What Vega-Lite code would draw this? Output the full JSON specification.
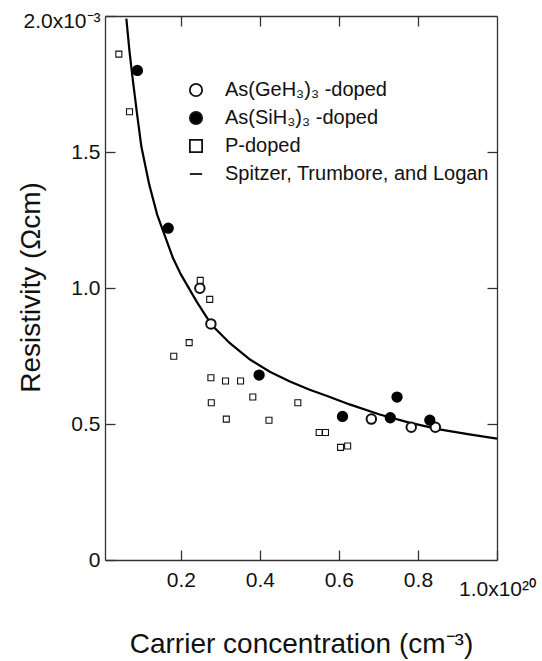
{
  "$schema": "https://vega.github.io/schema/vega-lite/v6.json",
  "width": 392,
  "height": 544,
  "autosize": {"type": "none"},
  "padding": {"left": 105, "top": 16, "right": 45, "bottom": 101},
  "background": "white",
  "config": {
    "view": {"stroke": null},
    "font": "Liberation Sans",
    "axis": {
      "grid": false,
      "domainColor": "#333",
      "domainWidth": 1.3,
      "tickColor": "#333",
      "tickWidth": 1.3,
      "tickSize": -10,
      "labelFont": "Liberation Sans",
      "labelFontSize": 21,
      "labelColor": "#111",
      "labelFlush": false,
      "labelOverlap": false,
      "labelBound": false,
      "titleFont": "Liberation Sans",
      "titleFontSize": 28,
      "titleFontWeight": "normal",
      "titleColor": "#111"
    },
    "legend": {
      "labelFont": "Liberation Sans",
      "labelFontSize": 20,
      "labelColor": "#111",
      "labelLimit": 400,
      "symbolSize": 150,
      "symbolStrokeWidth": 1.8
    }
  },
  "datasets": {
    "curve": [
      {"n": 0.062, "rho": 1.99},
      {"n": 0.070, "rho": 1.87},
      {"n": 0.078, "rho": 1.77},
      {"n": 0.090, "rho": 1.63},
      {"n": 0.100, "rho": 1.52},
      {"n": 0.120, "rho": 1.38},
      {"n": 0.140, "rho": 1.27},
      {"n": 0.160, "rho": 1.19},
      {"n": 0.180, "rho": 1.11},
      {"n": 0.200, "rho": 1.05},
      {"n": 0.240, "rho": 0.95},
      {"n": 0.278, "rho": 0.864},
      {"n": 0.324, "rho": 0.797},
      {"n": 0.375, "rho": 0.737},
      {"n": 0.425, "rho": 0.692},
      {"n": 0.476, "rho": 0.656},
      {"n": 0.526, "rho": 0.626},
      {"n": 0.572, "rho": 0.602},
      {"n": 0.627, "rho": 0.572},
      {"n": 0.703, "rho": 0.535},
      {"n": 0.778, "rho": 0.505},
      {"n": 0.854, "rho": 0.480},
      {"n": 0.930, "rho": 0.462},
      {"n": 1.000, "rho": 0.446}
    ],
    "points": [
      {"series": "As(GeH₃)₃ -doped", "n": 0.248, "rho": 0.999},
      {"series": "As(GeH₃)₃ -doped", "n": 0.276, "rho": 0.868},
      {"series": "As(GeH₃)₃ -doped", "n": 0.682, "rho": 0.518},
      {"series": "As(GeH₃)₃ -doped", "n": 0.783, "rho": 0.488},
      {"series": "As(GeH₃)₃ -doped", "n": 0.844, "rho": 0.488},
      {"series": "As(SiH₃)₃ -doped", "n": 0.090, "rho": 1.80},
      {"series": "As(SiH₃)₃ -doped", "n": 0.168, "rho": 1.22},
      {"series": "As(SiH₃)₃ -doped", "n": 0.398, "rho": 0.680},
      {"series": "As(SiH₃)₃ -doped", "n": 0.609, "rho": 0.528},
      {"series": "As(SiH₃)₃ -doped", "n": 0.747, "rho": 0.599},
      {"series": "As(SiH₃)₃ -doped", "n": 0.730, "rho": 0.523},
      {"series": "As(SiH₃)₃ -doped", "n": 0.830, "rho": 0.514},
      {"series": "P-doped", "n": 0.043, "rho": 1.86},
      {"series": "P-doped", "n": 0.070, "rho": 1.648},
      {"series": "P-doped", "n": 0.249, "rho": 1.028},
      {"series": "P-doped", "n": 0.273, "rho": 0.958},
      {"series": "P-doped", "n": 0.221, "rho": 0.799},
      {"series": "P-doped", "n": 0.182, "rho": 0.749},
      {"series": "P-doped", "n": 0.276, "rho": 0.670},
      {"series": "P-doped", "n": 0.313, "rho": 0.658},
      {"series": "P-doped", "n": 0.351, "rho": 0.658},
      {"series": "P-doped", "n": 0.382, "rho": 0.599},
      {"series": "P-doped", "n": 0.277, "rho": 0.578},
      {"series": "P-doped", "n": 0.315, "rho": 0.518},
      {"series": "P-doped", "n": 0.423, "rho": 0.514},
      {"series": "P-doped", "n": 0.496, "rho": 0.578},
      {"series": "P-doped", "n": 0.550, "rho": 0.469},
      {"series": "P-doped", "n": 0.566, "rho": 0.469},
      {"series": "P-doped", "n": 0.604, "rho": 0.414},
      {"series": "P-doped", "n": 0.622, "rho": 0.419}
    ]
  },
  "layer": [
    {
      "data": {"name": "curve"},
      "mark": {"type": "line", "color": "black", "strokeWidth": 2.2, "clip": true},
      "encoding": {
        "x": {
          "field": "n", "type": "quantitative",
          "scale": {"domain": [0.008, 1.0], "nice": false, "zero": false},
          "axis": {
            "orient": "bottom",
            "values": [0.2, 0.4, 0.6, 0.8, 1.0],
            "labelExpr": "datum.value == 1 ? '1.0x10²⁰' : format(datum.value, '.1f')",
            "labelPadding": {"expr": "datum.value == 1 ? 28 : 19"},
            "title": "Carrier concentration (cm⁻³)",
            "titleY": 92,
            "titleBaseline": "alphabetic"
          }
        },
        "y": {
          "field": "rho", "type": "quantitative",
          "scale": {"domain": [0, 2], "nice": false, "zero": false},
          "axis": {
            "orient": "left",
            "values": [0, 0.5, 1, 1.5, 2],
            "labelExpr": "datum.value == 2 ? '2.0x10⁻³' : datum.value == 0 ? '0' : format(datum.value, '.1f')",
            "labelPadding": 15,
            "labelOffset": {"expr": "datum.value == 2 ? 5 : 0"},
            "title": "Resistivity (Ωcm)",
            "titleX": -66,
            "titleY": 271,
            "titleAngle": -90,
            "titleAlign": "center",
            "titleBaseline": "alphabetic"
          }
        }
      }
    },
    {
      "data": {"name": "points"},
      "mark": {"type": "point", "opacity": 1, "stroke": "#111"},
      "encoding": {
        "x": {
          "field": "n", "type": "quantitative",
          "scale": {"domain": [0.008, 1.0], "nice": false, "zero": false},
          "axis": {"orient": "top", "values": [0.2, 0.4, 0.6, 0.8], "labels": false, "title": null}
        },
        "y": {
          "field": "rho", "type": "quantitative",
          "scale": {"domain": [0, 2], "nice": false, "zero": false},
          "axis": {"orient": "right", "values": [0.5, 1, 1.5], "labels": false, "title": null}
        },
        "shape": {
          "field": "series", "type": "nominal",
          "scale": {
            "domain": ["As(GeH₃)₃ -doped", "As(SiH₃)₃ -doped", "P-doped", "Spitzer, Trumbore, and Logan"],
            "range": ["circle", "circle", "square", "stroke"]
          },
          "legend": {
            "title": null,
            "orient": "none",
            "legendX": 81,
            "legendY": 64,
            "labelOffset": 19,
            "rowPadding": 8,
            "labelLimit": 400
          }
        },
        "fill": {
          "field": "series", "type": "nominal",
          "scale": {
            "domain": ["As(GeH₃)₃ -doped", "As(SiH₃)₃ -doped", "P-doped", "Spitzer, Trumbore, and Logan"],
            "range": ["white", "black", "white", "black"]
          },
          "legend": {
            "title": null,
            "orient": "none",
            "legendX": 81,
            "legendY": 64,
            "labelOffset": 19,
            "rowPadding": 8,
            "labelLimit": 400
          }
        },
        "size": {
          "field": "series", "type": "nominal",
          "scale": {
            "type": "ordinal",
            "domain": ["As(GeH₃)₃ -doped", "As(SiH₃)₃ -doped", "P-doped"],
            "range": [90, 128, 36]
          },
          "legend": null
        },
        "strokeWidth": {
          "field": "series", "type": "nominal",
          "scale": {
            "type": "ordinal",
            "domain": ["As(SiH₃)₃ -doped", "As(GeH₃)₃ -doped", "P-doped"],
            "range": [0, 2, 1.1]
          },
          "legend": null
        }
      }
    }
  ],
  "resolve": {"axis": {"x": "independent", "y": "independent"}}
}
